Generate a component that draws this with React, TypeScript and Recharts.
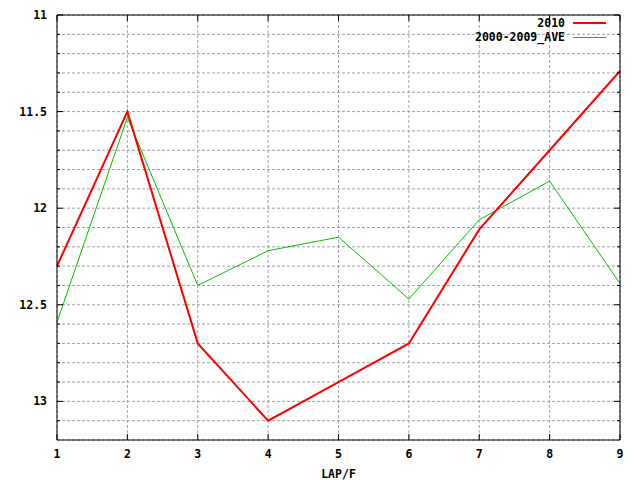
import { LineChart, Line, XAxis, YAxis, CartesianGrid, Legend } from "recharts";

// lap number on the x axis
const laps = [1, 2, 3, 4, 5, 6, 7, 8, 9];
// lap times
const times2010 = [12.3, 11.5, 12.7, 13.1, 12.9, 12.7, 12.11, 11.7, 11.29];
const timesAve = [12.59, 11.53, 12.4, 12.22, 12.15, 12.47, 12.06, 11.86, 12.39];

const yTicks = [
  11, 11.1, 11.2, 11.3, 11.4, 11.5, 11.6, 11.7, 11.8, 11.9, 12, 12.1, 12.2,
  12.3, 12.4, 12.5, 12.6, 12.7, 12.8, 12.9, 13, 13.1,
];
const yLabels = [11, 11.5, 12, 12.5, 13];
const seriesNames = ["2010", "2000-2009_AVE"];
const seriesColors = ["#ff0000", "#00c000"];
const seriesWidths = [2, 1];

const data = laps.map((lap, i) => ({
  lap,
  y2010: times2010[i],
  ave: timesAve[i],
}));

const FONT = "'DejaVu Sans Mono', monospace";

const LeftTick = (props: any) => {
  const { x, y, payload } = props;
  const major = yLabels.includes(payload.value);
  return (
    <g>
      <line x1={x + 10} x2={x + 10 + (major ? 6 : 3)} y1={y} y2={y} stroke="#000" />
      {major && (
        <text x={x} y={y} dy={4} textAnchor="end" fontFamily={FONT} fontSize={11.5} fontWeight="bold" fill="#000">
          {payload.value}
        </text>
      )}
    </g>
  );
};

const RightTick = (props: any) => {
  const { x, y, payload } = props;
  const major = yLabels.includes(payload.value);
  return <line x1={x} x2={x - (major ? 6 : 3)} y1={y} y2={y} stroke="#000" />;
};

const BottomTick = (props: any) => {
  const { x, y, payload } = props;
  return (
    <g>
      <line x1={x} x2={x} y1={y - 8} y2={y - 14} stroke="#000" />
      <text x={x} y={y} dy={10} textAnchor="middle" fontFamily={FONT} fontSize={11.5} fontWeight="bold" fill="#000">
        {payload.value}
      </text>
    </g>
  );
};

const TopTick = (props: any) => {
  const { x, y } = props;
  return <line x1={x} x2={x} y1={y} y2={y + 6} stroke="#000" />;
};

const LegendBox = () => (
  <div style={{ fontFamily: FONT, fontSize: 11.5, fontWeight: "bold", lineHeight: "14px" }}>
    {seriesNames.map((name, i) => (
      <div key={name} style={{ display: "flex", justifyContent: "flex-end", height: 14 }}>
        <span>{name}</span>
        <svg width={33} height={14} style={{ marginLeft: 8, display: "block" }}>
          <rect x={0} y={i === 0 ? 6 : 7} width={33} height={seriesWidths[i]} fill={seriesColors[i]} />
        </svg>
      </div>
    ))}
  </div>
);

export default function App() {
  return (
    <div style={{ position: "absolute", left: 0, top: 0, width: 640, height: 480, background: "#fff" }}>
      <LineChart width={640} height={480} data={data} margin={{ top: 0, right: 0, bottom: 0, left: 0 }}>
        <CartesianGrid xAxisId="bottom" yAxisId="left" stroke="#a0a0a0" strokeDasharray="3 2" />
        <XAxis
          xAxisId="bottom"
          dataKey="lap"
          type="number"
          domain={[1, 9]}
          ticks={laps}
          height={40}
          tickSize={8}
          tickMargin={0}
          tickLine={false}
          axisLine={{ stroke: "#000" }}
          tick={<BottomTick />}
          label={{
            value: "LAP/F",
            position: "insideBottom",
            offset: 2,
            style: { fontFamily: FONT, fontSize: 11.5, fontWeight: "bold", fill: "#000" },
          }}
        />
        <XAxis
          xAxisId="top"
          orientation="top"
          dataKey="lap"
          type="number"
          domain={[1, 9]}
          ticks={laps}
          height={15}
          tickSize={0}
          tickMargin={0}
          tickLine={false}
          axisLine={{ stroke: "#000" }}
          tick={<TopTick />}
        />
        <YAxis
          yAxisId="left"
          reversed
          type="number"
          domain={[11, 13.2]}
          allowDataOverflow
          ticks={yTicks}
          interval={0}
          width={57}
          tickSize={8}
          tickMargin={2}
          tickLine={false}
          axisLine={{ stroke: "#000" }}
          tick={<LeftTick />}
        />
        <YAxis
          yAxisId="right"
          orientation="right"
          reversed
          type="number"
          domain={[11, 13.2]}
          allowDataOverflow
          ticks={yTicks}
          interval={0}
          width={20}
          tickSize={0}
          tickMargin={0}
          tickLine={false}
          axisLine={{ stroke: "#000" }}
          tick={<RightTick />}
        />
        <Legend
          layout="vertical"
          align="center"
          verticalAlign="middle"
          wrapperStyle={{ position: "absolute", top: 16, right: 34, left: "auto", width: "auto", zIndex: 10 }}
          content={() => <LegendBox />}
        />
        <Line
          xAxisId="bottom"
          yAxisId="left"
          type="linear"
          dataKey="ave"
          name={seriesNames[1]}
          stroke={seriesColors[1]}
          strokeWidth={seriesWidths[1]}
          dot={false}
          isAnimationActive={false}
        />
        <Line
          xAxisId="bottom"
          yAxisId="left"
          type="linear"
          dataKey="y2010"
          name={seriesNames[0]}
          stroke={seriesColors[0]}
          strokeWidth={seriesWidths[0]}
          dot={false}
          isAnimationActive={false}
        />
      </LineChart>
    </div>
  );
}
